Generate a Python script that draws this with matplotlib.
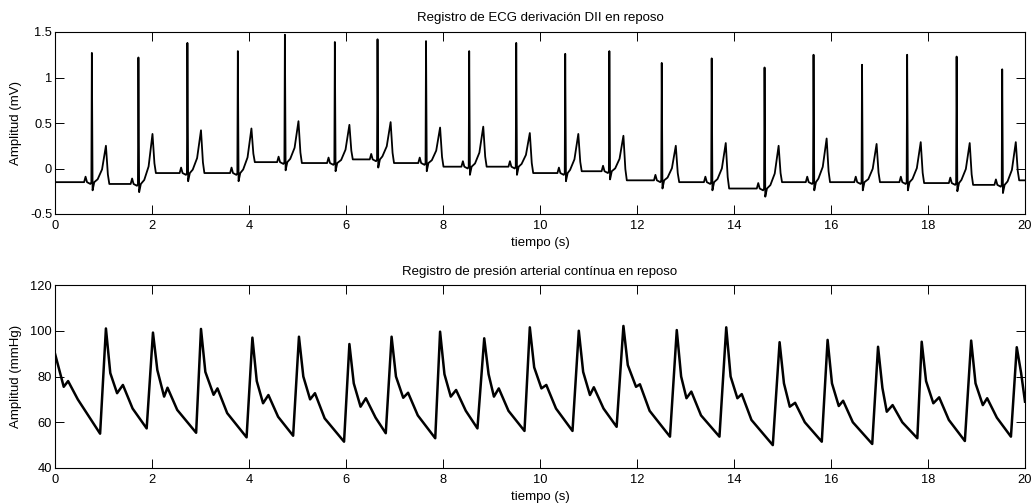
import matplotlib
matplotlib.use("Agg")
import matplotlib.pyplot as plt
import numpy as np

plt.rcParams['font.family'] = ['Liberation Sans', 'DejaVu Sans']

# ECG: tiempos y amplitudes (s, mV)
ecg_r_t = [0.76, 1.72, 2.73, 3.77, 4.74, 5.77, 6.65, 7.65, 8.54, 9.51,
           10.52, 11.43, 12.51, 13.54, 14.63, 15.64, 16.64, 17.57, 18.59, 19.53]
ecg_r_amp = [1.27, 1.22, 1.38, 1.29, 1.47, 1.39, 1.42, 1.40, 1.29, 1.38,
             1.26, 1.29, 1.16, 1.21, 1.11, 1.25, 1.14, 1.25, 1.23, 1.09]
ecg_t_t = [1.05, 2.01, 3.01, 4.05, 5.02, 6.07, 6.92, 7.94, 8.83, 9.79,
           10.79, 11.72, 12.80, 13.83, 14.92, 15.91, 16.94, 17.85, 18.86, 19.81]
ecg_t_amp = [0.25, 0.38, 0.42, 0.44, 0.52, 0.48, 0.51, 0.45, 0.46, 0.39,
             0.38, 0.36, 0.25, 0.28, 0.25, 0.33, 0.27, 0.29, 0.28, 0.29]
# linea de base antes de cada latido (y la final)
ecg_base = [-0.15, -0.17, -0.05, -0.05, 0.07, 0.06, 0.10, 0.06, 0.02, 0.02,
            -0.05, -0.03, -0.13, -0.15, -0.22, -0.15, -0.15, -0.15, -0.16, -0.18, -0.13]

# forma de un latido tipico (desplazamientos respecto a R / T)
qrs_off = [-0.16, -0.13, -0.10, -0.03, -0.01, 0.0, 0.015, 0.05]
qrs_rel = [0.0, 0.06, 0.0, -0.02, 0.0, None, -0.09, 0.0]
t_off = [-0.17, -0.08, 0.0, 0.04, 0.07]
t_frac = [0.08, 0.35, 1.0, 0.25, 0.0]

# Presion arterial (s, mmHg)
bp_start = 90.0
bp_end = 69.0
bp_notch_t = [0.18, 1.28, 2.25, 3.27, 4.29, 5.26, 6.30, 7.18, 8.16, 9.05, 10.03,
              11.03, 11.98, 13.02, 14.07, 15.15, 16.16, 17.15, 18.11, 19.13]
bp_notch = [75.5, 72.7, 71.2, 72.0, 68.3, 70.0, 66.8, 70.7, 71.2, 71.2, 74.8,
            71.9, 75.5, 70.5, 70.5, 66.8, 67.1, 64.6, 68.3, 67.5]
bp_dic_t = [0.27, 1.40, 2.32, 3.35, 4.40, 5.36, 6.41, 7.28, 8.27, 9.15, 10.13,
            11.11, 12.06, 13.12, 14.16, 15.26, 16.25, 17.27, 18.23, 19.22]
bp_dic = [78.0, 76.3, 75.1, 74.8, 71.9, 72.7, 70.5, 72.9, 74.1, 74.8, 76.3,
          75.3, 76.6, 73.4, 72.3, 68.5, 69.4, 67.5, 70.9, 70.5]
# valor en mitad del descenso diastolico (0.2 s despues de la onda dicrota)
bp_mid = [70.0, 66.0, 65.4, 64.0, 62.4, 61.7, 62.0, 63.0, 65.0, 65.0,
          66.0, 66.0, 65.0, 63.0, 61.0, 60.0, 60.0, 60.0, 61.0, 62.0]
bp_trough_t = [0.93, 1.89, 2.91, 3.95, 4.91, 5.96, 6.82, 7.84, 8.71, 9.68,
               10.67, 11.58, 12.68, 13.70, 14.80, 15.81, 16.85, 17.78, 18.76, 19.71]
bp_trough = [55.0, 57.3, 55.4, 53.4, 54.1, 51.5, 55.2, 53.0, 57.3, 56.2,
             56.2, 58.0, 53.7, 53.7, 50.0, 51.5, 50.5, 53.0, 51.8, 53.7]
bp_peak_t = [1.05, 2.02, 3.01, 4.07, 5.03, 6.07, 6.94, 7.94, 8.85, 9.79,
             10.80, 11.72, 12.82, 13.84, 14.94, 15.93, 16.97, 17.87, 18.89, 19.83]
bp_peak = [101.0, 99.2, 100.8, 97.0, 97.4, 94.2, 97.4, 99.6, 96.7, 101.5,
           100.0, 102.1, 100.3, 101.5, 95.0, 96.0, 93.0, 95.2, 95.7, 92.8]
bp_knee = [81.5, 82.8, 82.0, 78.0, 80.0, 77.0, 80.0, 81.0, 81.0, 84.0,
           82.0, 85.0, 80.0, 80.0, 77.0, 77.0, 75.0, 78.0, 77.0, 81.5]


def construir_ecg():
    xs, ys = [0.0], [ecg_base[0]]
    for i in range(len(ecg_r_t)):
        r, b0, b1 = ecg_r_t[i], ecg_base[i], ecg_base[i + 1]
        for off, rel in zip(qrs_off, qrs_rel):
            xs.append(r + off)
            ys.append(ecg_r_amp[i] if rel is None else b0 + rel)
        tt, ta = ecg_t_t[i], ecg_t_amp[i]
        for k, (off, fr) in enumerate(zip(t_off, t_frac)):
            base = b0 if k <= 2 else b1
            xs.append(tt + off)
            ys.append(base + fr * (ta - base))
    xs.append(20.0)
    ys.append(ecg_base[-1])
    return xs, ys


def construir_presion():
    xs, ys = [0.0], [bp_start]
    for i in range(len(bp_trough_t)):
        xs += [bp_notch_t[i], bp_dic_t[i], bp_dic_t[i] + 0.2, bp_trough_t[i],
               bp_peak_t[i], bp_peak_t[i] + 0.09]
        ys += [bp_notch[i], bp_dic[i], bp_mid[i], bp_trough[i], bp_peak[i], bp_knee[i]]
    xs.append(20.0)
    ys.append(bp_end)
    return xs, ys


def estilo(ax):
    ax.set_xlim(0, 20)
    ax.set_xticks(np.arange(0, 21, 2))
    ax.tick_params(direction='in', length=6.5, width=0.7, top=True, right=True,
                   labelsize=9.3, color='black')
    ax.tick_params(axis='x', pad=4)
    ax.tick_params(axis='y', pad=2)
    for s in ax.spines.values():
        s.set_linewidth(0.8)
    ax.set_xlabel("tiempo (s)", fontsize=9.5, labelpad=4)


fig = plt.figure(figsize=(10.33, 5.04), dpi=100)

ax1 = fig.add_axes([55 / 1033, 1 - 214 / 504, 970 / 1033, 182 / 504])
x, y = construir_ecg()
ax1.plot(x, y, color='black', lw=1.3)
ax1.set_ylim(-0.5, 1.5)
ax1.set_yticks([-0.5, 0, 0.5, 1, 1.5])
ax1.set_yticklabels(["-0.5", "0", "0.5", "1", "1.5"])
estilo(ax1)
ax1.set_ylabel("Amplitud (mV)", fontsize=9.5, labelpad=6)
ax1.set_title("Registro de ECG derivación DII en reposo", fontsize=9.5, pad=8)

ax2 = fig.add_axes([55 / 1033, 1 - 468 / 504, 970 / 1033, 183 / 504])
x, y = construir_presion()
ax2.plot(x, y, color='black', lw=1.8)
ax2.set_ylim(40, 120)
ax2.set_yticks(np.arange(40, 121, 20))
estilo(ax2)
ax2.set_ylabel("Amplitud (mmHg)", fontsize=9.5, labelpad=6)
ax2.set_title("Registro de presión arterial contínua en reposo", fontsize=9.5, pad=7)

fig.savefig("out.png", dpi=100)
